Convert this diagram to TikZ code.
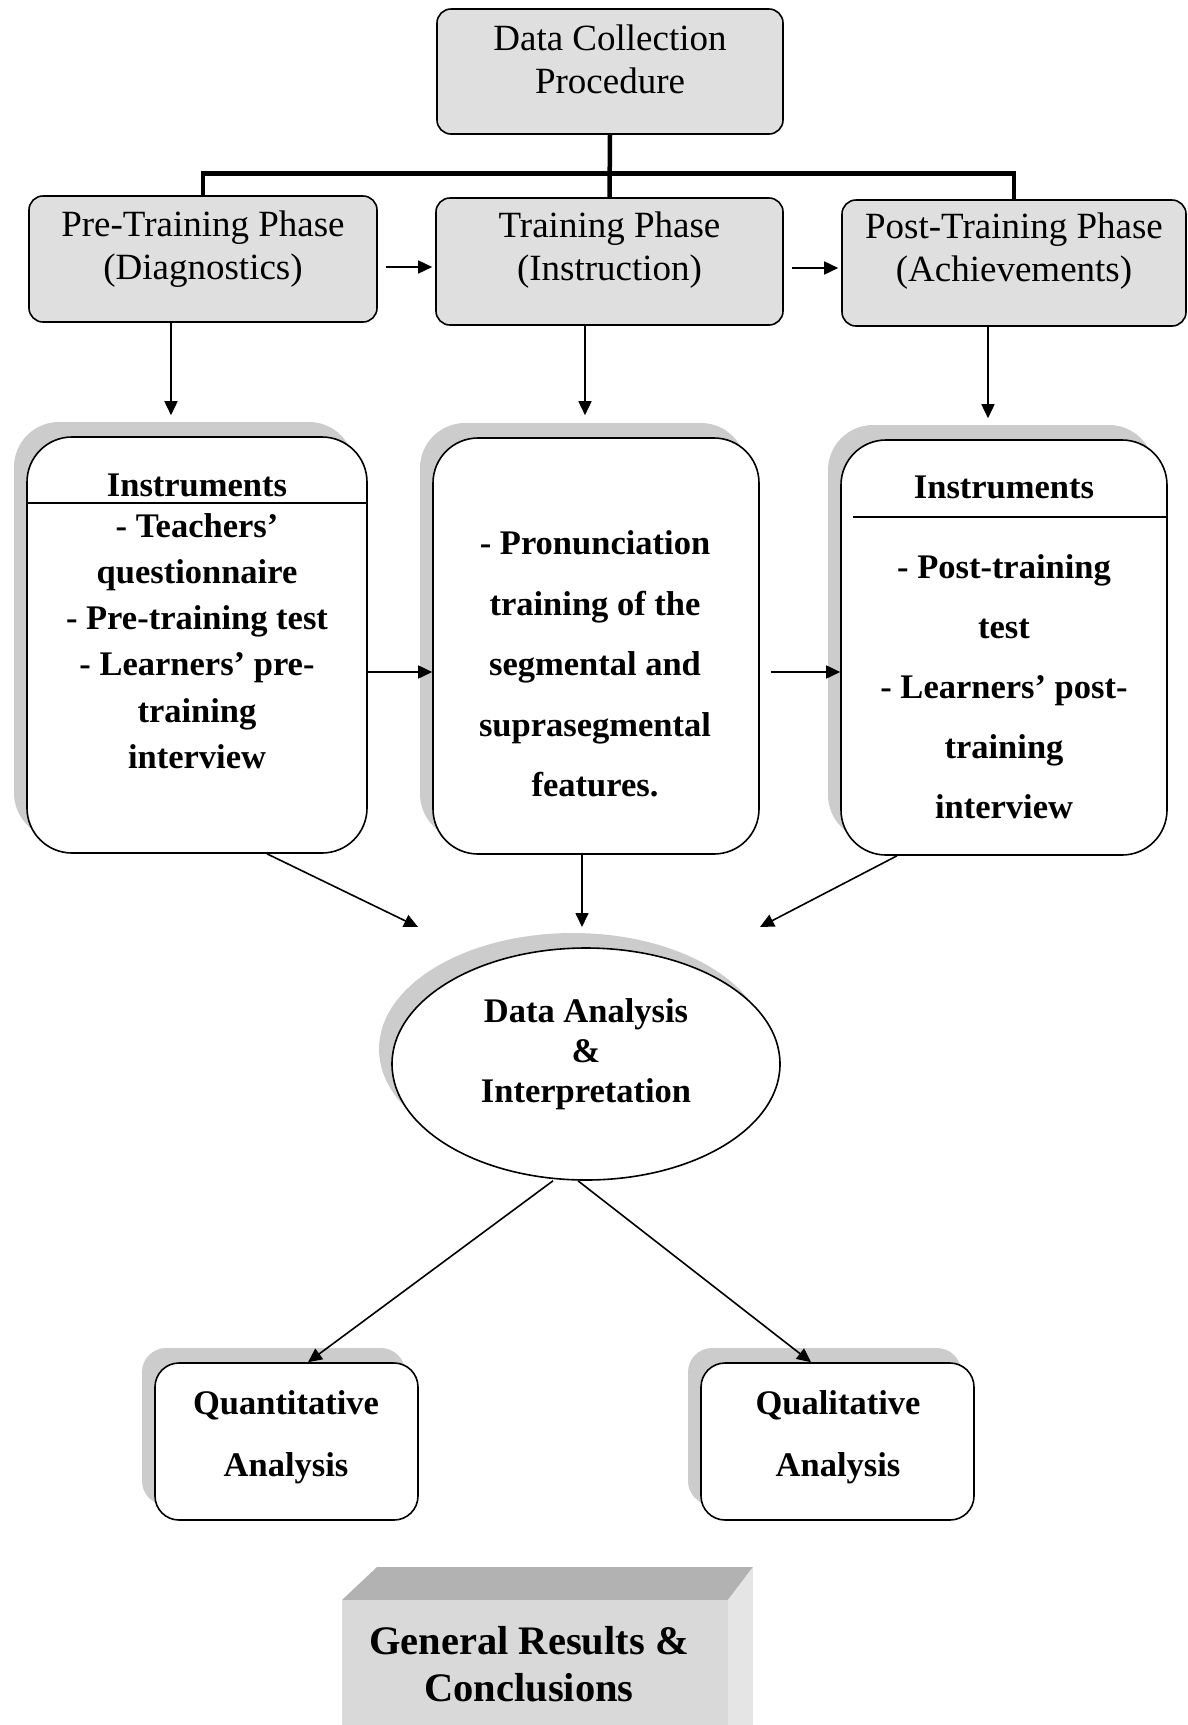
\documentclass[tikz,border=0pt]{standalone}
\usepackage{fontspec}
\setmainfont{Liberation Serif}
\usetikzlibrary{arrows.meta,shapes.geometric,shadows}
\tikzset{%
  phase/.style={draw, line width=1.6pt, fill=gray!25, rounded corners=14pt, inner sep=0pt},
  ptext/.style={align=center, font=\fontsize{37}{43}\selectfont},
  card/.style={draw, line width=1.6pt, fill=white, inner sep=0pt,
    drop shadow={shadow xshift=-13pt, shadow yshift=15pt, fill=gray!40, opacity=1}},
  btext/.style={align=center, font=\bfseries\fontsize{34.5}{#1}\selectfont},
  btext/.default=46,
  arr/.style={line width=1.6pt, -{Triangle[length=14pt, width=13pt]}},
  bus/.style={line width=4.5pt}
}

\begin{document}
\begin{tikzpicture}[x=1pt, y=-1pt]
	\useasboundingbox (0,0) rectangle (1187,1725);
	% phases
	\node[phase, minimum width=346pt, minimum height=125pt] (top) at (610,71.5) {};
	\node[ptext] (top-t) at (610,59) {Data Collection\\Procedure};
	\node[phase, minimum width=348pt, minimum height=126pt] (pre) at (203,259) {};
	\node[ptext] (pre-t) at (203,249) {Pre-Training Phase\\(Diagnostics)};
	\node[phase, minimum width=347pt, minimum height=127pt] (train) at (609.5,261.5) {};
	\node[ptext] (train-t) at (609.5,250) {Training Phase\\(Instruction)};
	\node[phase, minimum width=344pt, minimum height=126pt] (post) at (1014,263) {};
	\node[ptext] (post-t) at (1014,251) {Post-Training Phase\\(Achievements)};
	\draw[bus] (top.south) -- (train.north);
	\draw[bus] (pre.north) |- (post.north |- 0,173.5) -- (post.north);
	\draw[arr, shorten <=8pt, shorten >=3pt] (pre.east |- 0,267) -- (train.west |- 0,267);
	\draw[arr, shorten <=8pt, shorten >=3pt] (train.east |- 0,268) -- (post.west |- 0,268);

	% instruments
	\node[card, rounded corners=45pt, minimum width=340pt, minimum height=416pt] (ins1) at (197,645) {};
	\node[btext] (ins1-h) at (197,485) {Instruments};
	\draw[line width=1.2pt] (ins1.west |- 0,503) -- (ins1.east |- 0,503);
	\node[btext=46.3] (ins1-t) at (197,641) {- Teachers'\\questionnaire\\- Pre-training test\\- Learners' pre-\\training\\interview};

	\node[card, rounded corners=45pt, minimum width=326pt, minimum height=416pt] (ins2) at (596,646) {};
	\node[btext=60.5] (ins2-t) at (595,664) {- Pronunciation\\training of the\\segmental and\\suprasegmental\\features.};

	\node[card, rounded corners=45pt, minimum width=326pt, minimum height=415pt] (ins3) at (1004,647.5) {};
	\node[btext] (ins3-h) at (1004,487) {Instruments};
	\draw[line width=1.2pt] (853,517) -- (ins3.east |- 0,517);
	\node[btext=60] (ins3-t) at (1004,687) {- Post-training\\test\\- Learners' post-\\training\\interview};

	\draw[arr, shorten >=21pt] (pre.south -| 171,0) -- (ins1.north -| 171,0);
	\draw[arr, shorten >=22pt] (train.south -| 585,0) -- (ins2.north -| 585,0);
	\draw[arr, shorten >=21pt] (post.south -| 988,0) -- (ins3.north -| 988,0);
	\draw[arr] (ins1.east |- 0,672) -- (ins2.west |- 0,672);
	\draw[arr, shorten <=11pt] (ins2.east |- 0,672) -- (ins3.west |- 0,672);

	% analysis
	\node[card, ellipse, minimum width=388pt, minimum height=232pt] (ana) at (586,1064) {};
	\node[btext=40] (ana-t) at (586,1054) {Data Analysis\\\&\\Interpretation};
	\coordinate (in1) at (418,927);
	\coordinate (in2) at (582,927);
	\coordinate (in3) at (760,927);
	\draw[arr] (ins1.south -| 267,0) -- (in1);
	\draw[arr] (ins2.south -| 582,0) -- (in2);
	\draw[arr] (ins3.south -| 897,0) -- (in3);

	\node[card, rounded corners=24pt, minimum width=263pt, minimum height=157pt] (quant) at (286.5,1441.5) {};
	\node[btext=62] (quant-t) at (286,1437) {Quantitative\\Analysis};
	\node[card, rounded corners=24pt, minimum width=273pt, minimum height=157pt] (qual) at (837.5,1441.5) {};
	\node[btext=62] (qual-t) at (838,1437) {Qualitative\\Analysis};
	\draw[arr] ([xshift=-33pt]ana.south) -- (quant.north -| 308,0);
	\draw[arr] ([xshift=-8pt]ana.south) -- (qual.north -| 811,0);

	% results
	\fill[gray!60] (342,1600) -- (377,1567) -- (753,1567) -- (728,1600) -- cycle;
	\fill[gray!20] (728,1600) -- (753,1567) -- (753,1725) -- (728,1725) -- cycle;
	\fill[gray!30] (342,1600) rectangle (728,1725);
	\node[align=center, font=\bfseries\fontsize{40.5}{47}\selectfont] (res) at (529,1664) {General Results \&\\Conclusions};
\end{tikzpicture}
\end{document}
